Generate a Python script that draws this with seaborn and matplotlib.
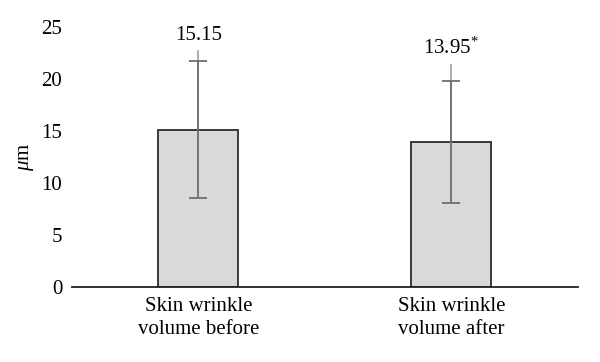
import numpy as np
import pandas as pd
import matplotlib
matplotlib.use("Agg")
import matplotlib.pyplot as plt
import seaborn as sns

# data
categories = ["Skin wrinkle\nvolume before", "Skin wrinkle\nvolume after"]
means = [15.15, 13.95]
sd = [6.6, 5.9]
line_top = [22.8, 21.5]
labels = ["15.15", "13.95$^{*}$"]

df = pd.DataFrame({"group": categories, "value": means})

sns.set_style("white")
plt.rcParams["font.family"] = ["Liberation Serif", "DejaVu Serif"]
plt.rcParams["mathtext.fontset"] = "custom"
plt.rcParams["mathtext.rm"] = "Liberation Serif"
plt.rcParams["mathtext.it"] = "Liberation Serif:italic"
plt.rcParams["text.color"] = "black"
plt.rcParams["xtick.color"] = "black"
plt.rcParams["ytick.color"] = "black"
plt.rcParams["axes.labelcolor"] = "black"

fig = plt.figure(figsize=(6, 3.62), dpi=100)
ax = fig.add_axes([0.12, 0.207, 0.843, 0.718])

sns.barplot(data=df, x="group", y="value", color="#d9d9d9", width=0.316,
            edgecolor="#2b2b2b", linewidth=1.3, ax=ax, errorbar=None)

x = np.arange(len(categories))
# light upper whisker extension
ax.vlines(x, means, line_top, color="#a6a6a6", linewidth=1.3, zorder=3)
ax.errorbar(x, means, yerr=sd, fmt="none", ecolor="#6e6e6e",
            elinewidth=1.3, capsize=6.5, capthick=1.3, zorder=4)

for i, t in enumerate(labels):
    ax.text(x[i], line_top[i] + 0.45, t, ha="center", va="bottom", fontsize=15)

ax.set_xlim(-0.5, 1.5)
ax.set_ylim(0, 25)
ax.set_yticks([0, 5, 10, 15, 20, 25])
ax.tick_params(axis="both", length=0, labelsize=15)
ax.tick_params(axis="y", pad=7)
ax.tick_params(axis="x", pad=7)
ax.set_xlabel("")
ax.set_ylabel(r"$\mu$m", fontsize=15, labelpad=4)
for s in ["top", "right", "left"]:
    ax.spines[s].set_visible(False)
ax.spines["bottom"].set_linewidth(1.3)
ax.spines["bottom"].set_color("#222222")
plt.setp(ax.get_xticklabels(), linespacing=1.3)

fig.savefig("out.png", dpi=100)
